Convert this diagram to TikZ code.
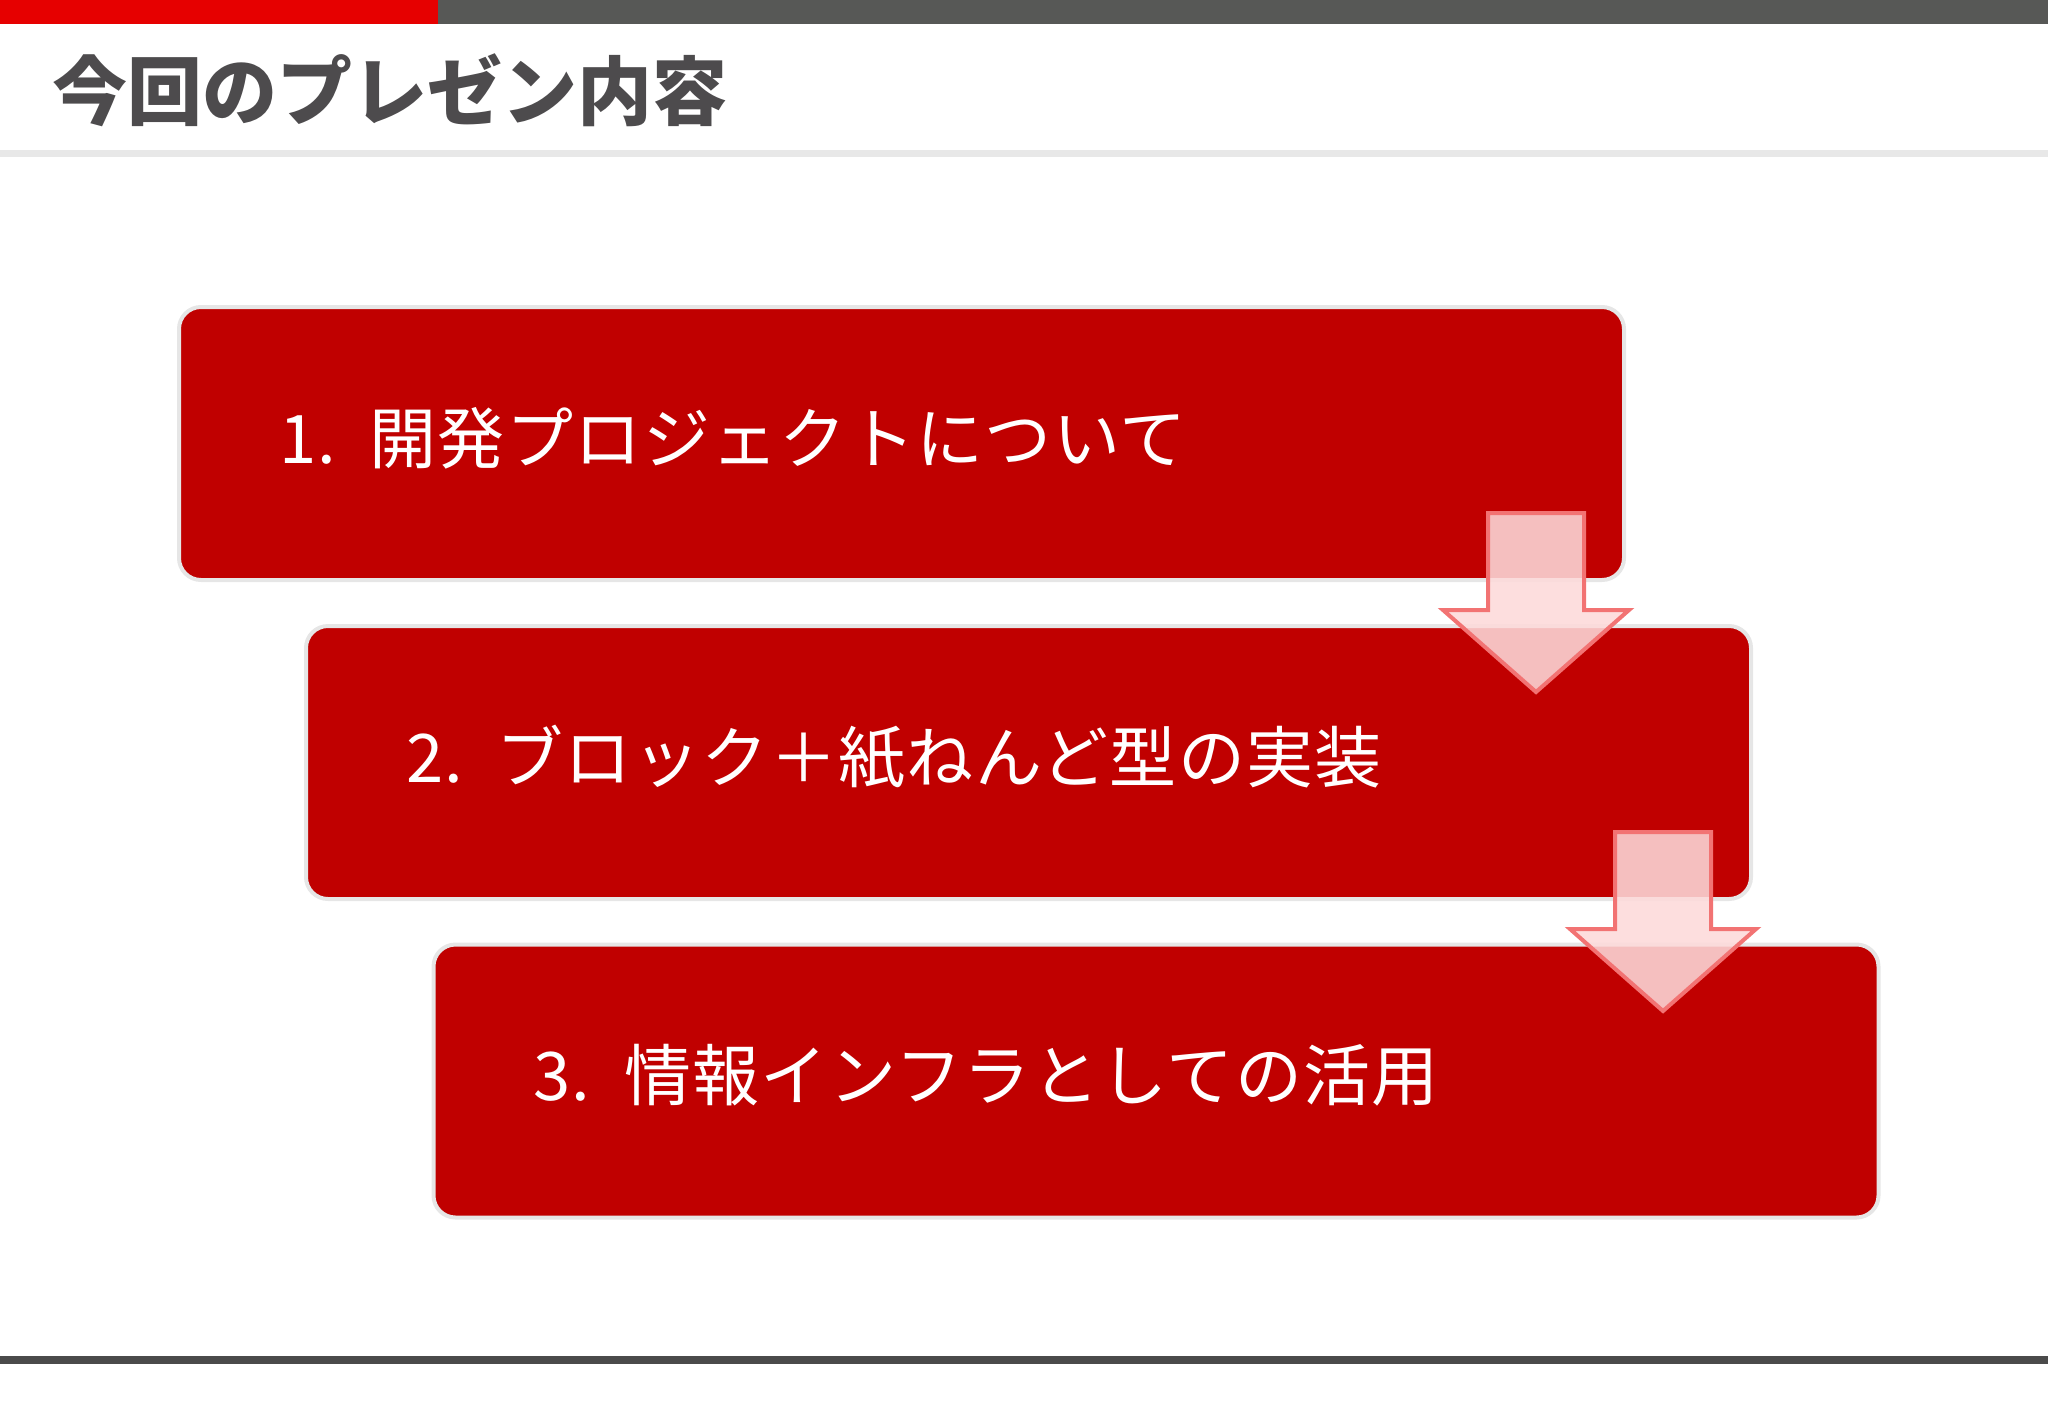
\documentclass[tikz,border=0pt]{standalone}
\usepackage{fontspec}
\setmainfont{Noto Sans CJK JP}
\newfontfamily\itemfont[LetterSpace=2.0]{Noto Sans CJK JP}
\usetikzlibrary{calc}

\definecolor{topred}{RGB}{230,0,0}
\definecolor{topgray}{RGB}{87,88,86}
\definecolor{titlegray}{RGB}{77,75,77}
\definecolor{boxred}{RGB}{192,0,0}
\definecolor{boxrim}{RGB}{230,230,230}
\definecolor{arrowline}{RGB}{242,115,115}
\definecolor{arrowfill}{RGB}{253,218,218}
\definecolor{rulegray}{RGB}{232,232,232}
\definecolor{footgray}{RGB}{75,75,75}

\begin{document}
\begin{tikzpicture}[x=0.5pt, y=-0.5pt]

        % Styles for the boxes and the arrows
        \tikzset{itembox/.style={rectangle, rounded corners=11pt, fill=boxred, draw=boxrim, line width=2pt, outer sep=0pt,
                 minimum height=136.5pt, text width=622.5pt, inner xsep=50pt, inner ysep=0pt, align=left,
                 text height=27.5pt, text depth=8pt,
                 text=white, font=\itemfont\fontsize{33.5pt}{40pt}\selectfont}}
        \tikzset{downarrow/.style={draw=arrowline, line width=2pt, fill=arrowfill, fill opacity=0.88, line join=miter}}

        \useasboundingbox (0,0) rectangle (2048,1418);

        % =================================================================
        % 1. HEADER - bars, title and rule
        % =================================================================

        \fill[topred] (0,0) rectangle (438,24);
        \fill[topgray] (438,0) rectangle (2048,24);
        \node[anchor=west, inner sep=0pt, text=titlegray, font=\fontsize{37.5pt}{44pt}\selectfont\bfseries] (title) at (52,90) {今回のプレゼン内容};
        \fill[rulegray] (0,150) rectangle (2048,157);

        % =================================================================
        % 2. THE THREE ITEMS
        % =================================================================

        \node[itembox] (box1) at (901.5,443.5) {1. 開発プロジェクトについて};
        \node[itembox] (box2) at (1028.5,762.5) {2. ブロック＋紙ねんど型の実装};
        \node[itembox] (box3) at (1156,1081) {3. 情報インフラとしての活用};

        % Arrows from one box to the next
        \coordinate (a1) at ($(box1.south east)+(-88,-67)$);
        \coordinate (a2) at ($(box2.south east)+(-88,-67)$);
        \foreach \a in {a1, a2} {
            \draw[downarrow] (\a) ++(-48,0) -- ++(96,0) -- ++(0,97) -- ++(45,0) -- ++(-93,82) -- ++(-93,-82) -- ++(45,0) -- cycle;
        }

        % =================================================================
        % 3. FOOTER RULE
        % =================================================================

        \fill[footgray] (0,1356) rectangle (2048,1364);

\end{tikzpicture}
\end{document}
